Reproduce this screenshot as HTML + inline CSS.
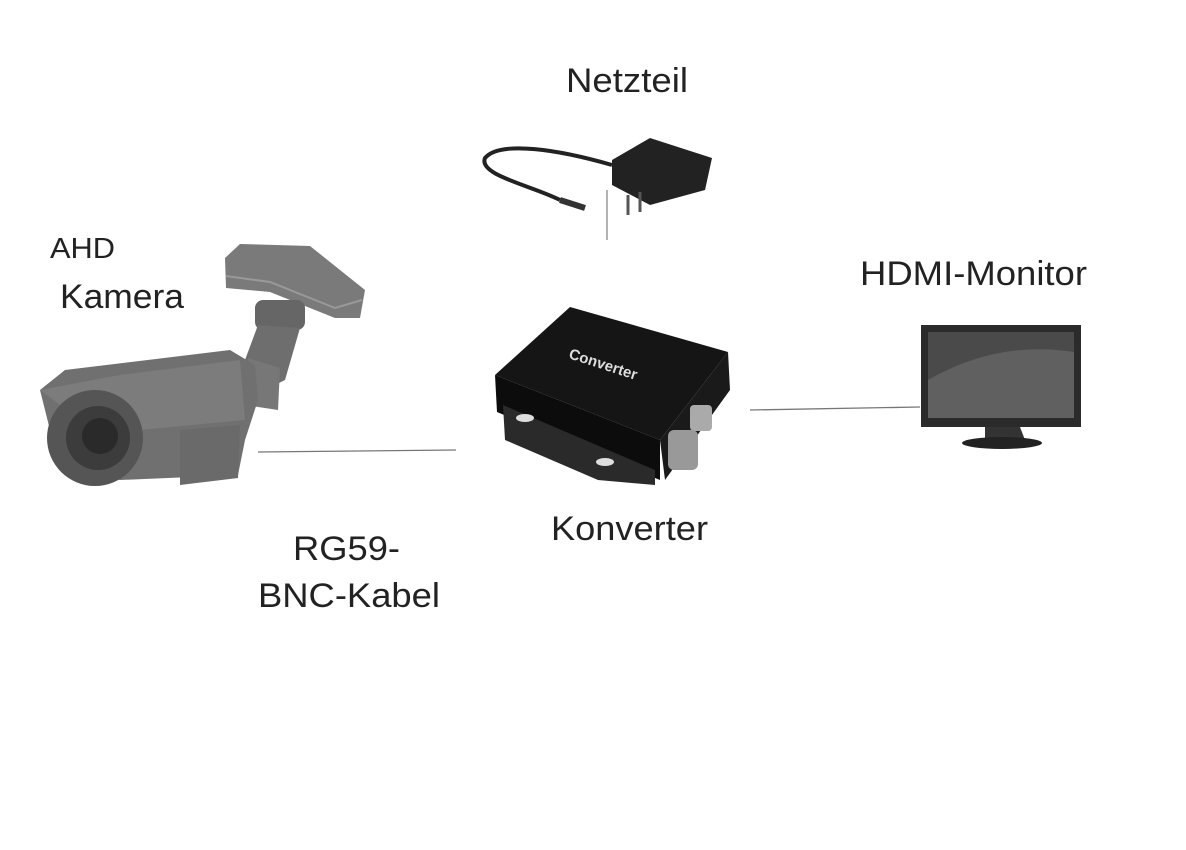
<!DOCTYPE html>
<html><head><meta charset="utf-8"><style>
html,body{margin:0;padding:0;background:#fff;}
svg{display:block;}
text{font-family:"Liberation Sans",sans-serif;fill:#222;}
</style></head><body>
<svg width="1186" height="850" viewBox="0 0 1186 850" xmlns="http://www.w3.org/2000/svg">
<rect width="1186" height="850" fill="#fff"/>
<!-- labels -->
<text x="566" y="92" font-size="34" textLength="122" lengthAdjust="spacingAndGlyphs">Netzteil</text>
<text x="50" y="258" font-size="29" textLength="65" lengthAdjust="spacingAndGlyphs">AHD</text>
<text x="60" y="308" font-size="34" textLength="124" lengthAdjust="spacingAndGlyphs">Kamera</text>
<text x="860" y="285" font-size="34" textLength="227" lengthAdjust="spacingAndGlyphs">HDMI-Monitor</text>
<text x="551" y="540" font-size="34" textLength="157" lengthAdjust="spacingAndGlyphs">Konverter</text>
<text x="293" y="560" font-size="34" textLength="107" lengthAdjust="spacingAndGlyphs">RG59-</text>
<text x="258" y="607" font-size="34" textLength="182" lengthAdjust="spacingAndGlyphs">BNC-Kabel</text>
<!-- connector lines -->
<line x1="258" y1="452" x2="456" y2="450" stroke="#777" stroke-width="1.3"/>
<line x1="750" y1="410" x2="920" y2="407" stroke="#777" stroke-width="1.3"/>
<line x1="607" y1="190" x2="607" y2="240" stroke="#888" stroke-width="1.3"/>
<!-- power adapter -->
<path d="M612 160 L650 138 L712 158 L705 190 L650 205 L612 185 Z" fill="#222"/>
<path d="M628 195 L628 215 M640 192 L640 212" stroke="#555" stroke-width="3"/>
<path d="M612 165 C560 150 500 140 485 158 C478 175 530 185 560 200" fill="none" stroke="#222" stroke-width="4"/>
<path d="M560 200 L585 208" stroke="#333" stroke-width="6"/>
<!-- camera -->
<path d="M225 258 L240 244 L310 246 L365 290 L360 318 L335 318 L270 292 L226 288 Z" fill="#7a7a7a"/>
<path d="M226 276 L270 282 L335 308 L362 300" fill="none" stroke="#999" stroke-width="2"/>
<rect x="255" y="300" width="50" height="30" rx="8" fill="#666"/>
<path d="M258 325 L300 328 L285 380 L255 395 L245 360 Z" fill="#6e6e6e"/>
<path d="M248 358 L280 368 L278 410 L245 405 Z" fill="#777"/>
<path d="M40 390 L65 370 L230 350 L255 365 L258 400 L245 440 L238 475 L120 480 L60 470 Z" fill="#707070"/>
<path d="M40 390 L120 375 L240 360 L245 420 L140 430 L80 420 Z" fill="#7c7c7c"/>
<path d="M180 430 L240 425 L238 478 L180 485 Z" fill="#6a6a6a"/>
<circle cx="95" cy="438" r="48" fill="#555"/>
<circle cx="98" cy="438" r="32" fill="#3c3c3c"/>
<circle cx="100" cy="436" r="18" fill="#2a2a2a"/>
<!-- converter -->
<path d="M495 375 L570 307 L728 352 L660 440 Z" fill="#151515"/>
<path d="M495 375 L660 440 L660 480 L497 412 Z" fill="#0c0c0c"/>
<path d="M660 440 L728 352 L730 390 L665 480 Z" fill="#1a1a1a"/>
<path d="M503 405 L655 470 L655 485 L598 480 L505 440 Z" fill="#2a2a2a"/>
<ellipse cx="525" cy="418" rx="9" ry="4" fill="#ddd"/>
<ellipse cx="605" cy="462" rx="9" ry="4" fill="#ddd"/>
<text x="568" y="358" font-size="15" font-weight="bold" style="fill:#ddd" transform="rotate(18 568 358)">Converter</text>
<rect x="690" y="405" width="22" height="26" rx="4" fill="#aaa"/>
<rect x="668" y="430" width="30" height="40" rx="6" fill="#999"/>
<!-- monitor -->
<rect x="921" y="325" width="160" height="102" fill="#2b2b2b"/>
<rect x="928" y="332" width="146" height="86" fill="#4a4a4a"/>
<path d="M928 380 C980 350 1030 345 1074 352 L1074 418 L928 418 Z" fill="#606060"/>
<path d="M985 427 L1020 427 L1025 440 L985 440 Z" fill="#333"/>
<ellipse cx="1002" cy="443" rx="40" ry="6" fill="#222"/>
</svg>
</body></html>
